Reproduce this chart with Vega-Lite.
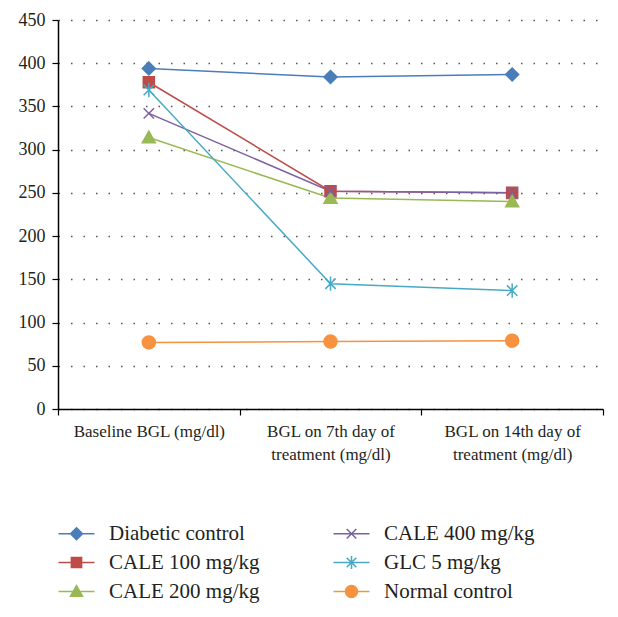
{
  "$schema": "https://vega.github.io/schema/vega-lite/v6.json",
  "width": 545,
  "height": 389,
  "autosize": {"type": "none"},
  "padding": {"left": 58, "top": 20, "right": 15, "bottom": 208},
  "background": "white",
  "config": {
    "font": "Liberation Serif",
    "view": {"stroke": null}
  },
  "data": {
    "values": [
      {"group": "Diabetic control", "time": "Baseline BGL (mg/dl)", "bgl": 394},
      {"group": "Diabetic control", "time": "BGL on 7th day of treatment (mg/dl)", "bgl": 384},
      {"group": "Diabetic control", "time": "BGL on 14th day of treatment (mg/dl)", "bgl": 387},
      {"group": "CALE 100 mg/kg", "time": "Baseline BGL (mg/dl)", "bgl": 378},
      {"group": "CALE 100 mg/kg", "time": "BGL on 7th day of treatment (mg/dl)", "bgl": 252},
      {"group": "CALE 100 mg/kg", "time": "BGL on 14th day of treatment (mg/dl)", "bgl": 250},
      {"group": "CALE 200 mg/kg", "time": "Baseline BGL (mg/dl)", "bgl": 314},
      {"group": "CALE 200 mg/kg", "time": "BGL on 7th day of treatment (mg/dl)", "bgl": 244},
      {"group": "CALE 200 mg/kg", "time": "BGL on 14th day of treatment (mg/dl)", "bgl": 240},
      {"group": "CALE 400 mg/kg", "time": "Baseline BGL (mg/dl)", "bgl": 342},
      {"group": "CALE 400 mg/kg", "time": "BGL on 7th day of treatment (mg/dl)", "bgl": 252},
      {"group": "CALE 400 mg/kg", "time": "BGL on 14th day of treatment (mg/dl)", "bgl": 250},
      {"group": "GLC 5 mg/kg", "time": "Baseline BGL (mg/dl)", "bgl": 369},
      {"group": "GLC 5 mg/kg", "time": "BGL on 7th day of treatment (mg/dl)", "bgl": 145},
      {"group": "GLC 5 mg/kg", "time": "BGL on 14th day of treatment (mg/dl)", "bgl": 137},
      {"group": "Normal control", "time": "Baseline BGL (mg/dl)", "bgl": 77},
      {"group": "Normal control", "time": "BGL on 7th day of treatment (mg/dl)", "bgl": 78},
      {"group": "Normal control", "time": "BGL on 14th day of treatment (mg/dl)", "bgl": 79}
    ]
  },
  "encoding": {
    "x": {
      "field": "time",
      "type": "nominal",
      "sort": null,
      "scale": {"paddingInner": 0, "paddingOuter": 0},
      "axis": {
        "title": null,
        "tickBand": "extent",
        "labelAngle": 0,
        "labelExpr": "indexof(datum.label, ' treatment') > 0 ? [replace(datum.label, ' treatment (mg/dl)', ''), 'treatment (mg/dl)'] : datum.label",
        "labelFont": "Liberation Serif",
        "labelFontSize": 17,
        "labelColor": "#231f20",
        "labelPadding": 8,
        "labelLineHeight": 23,
        "labelLimit": 300,
        "tickSize": 6,
        "tickColor": "#000000",
        "tickWidth": 1.2,
        "domainColor": "#000000",
        "domainWidth": 1.5,
        "grid": false
      }
    },
    "y": {
      "field": "bgl",
      "type": "quantitative",
      "scale": {"domain": [0, 450], "nice": false},
      "axis": {
        "title": null,
        "values": [0, 50, 100, 150, 200, 250, 300, 350, 400, 450],
        "grid": true,
        "gridDash": [1.5, 11],
        "gridColor": "#555555",
        "gridWidth": 1.5,
        "labelFont": "Liberation Serif",
        "labelFontSize": 18,
        "labelColor": "#231f20",
        "labelPadding": 7,
        "tickSize": 6,
        "tickColor": "#000000",
        "tickWidth": 1.2,
        "domainColor": "#000000",
        "domainWidth": 1.5
      }
    }
  },
  "layer": [
    {
      "mark": {"type": "line", "strokeWidth": 1.5},
      "encoding": {
        "color": {
          "field": "group",
          "type": "nominal",
          "scale": {
            "domain": ["Diabetic control", "CALE 100 mg/kg", "CALE 200 mg/kg", "CALE 400 mg/kg", "GLC 5 mg/kg", "Normal control"],
            "range": ["#4a7ebb", "#be4b48", "#98b954", "#7d60a0", "#46aac5", "#f69240"]
          },
          "legend": {
            "title": null,
            "orient": "none",
            "legendX": 8,
            "legendY": 503,
            "columns": 2,
            "columnPadding": 70,
            "rowPadding": 7,
            "labelFont": "Liberation Serif",
            "labelFontSize": 21,
            "labelColor": "#231f20",
            "labelOffset": 22,
            "labelLimit": 300,
            "symbolSize": 144,
            "symbolStrokeWidth": 1.5,
            "encode": {
              "symbols": {
                "update": {
                  "shape": {"signal": "datum.value === 'Diabetic control' ? 'M-3,0L3,0M0,-1L1,0L0,1L-1,0Z' : datum.value === 'CALE 100 mg/kg' ? 'M-3,0L3,0M-0.85,-0.85L0.85,-0.85L0.85,0.85L-0.85,0.85Z' : datum.value === 'CALE 200 mg/kg' ? 'M-3,0L3,0M0,-1L1,0.8L-1,0.8Z' : datum.value === 'CALE 400 mg/kg' ? 'M-3,0L3,0M-0.8,-0.8L0.8,0.8M-0.8,0.8L0.8,-0.8' : datum.value === 'GLC 5 mg/kg' ? 'M-3,0L3,0M-0.8,-0.8L0.8,0.8M-0.8,0.8L0.8,-0.8M0,-1.1L0,1.1' : 'M-3,0L3,0M1,0A1,1,0,1,1,-1,0A1,1,0,1,1,1,0Z'"}
                }
              }
            }
          }
        }
      }
    },
    {
      "mark": {"type": "point", "filled": true, "size": 169, "strokeWidth": 1.5, "opacity": 1},
      "encoding": {
        "color": {"field": "group", "type": "nominal"},
        "stroke": {
          "field": "group",
          "type": "nominal",
          "scale": {
            "domain": ["Diabetic control", "CALE 100 mg/kg", "CALE 200 mg/kg", "CALE 400 mg/kg", "GLC 5 mg/kg", "Normal control"],
            "range": ["#4a7ebb", "#be4b48", "#98b954", "#7d60a0", "#46aac5", "#f69240"]
          }
        },
        "shape": {
          "field": "group",
          "type": "nominal",
          "legend": null,
          "scale": {
            "domain": ["Normal control", "GLC 5 mg/kg", "CALE 400 mg/kg", "CALE 200 mg/kg", "CALE 100 mg/kg", "Diabetic control"],
            "range": ["M1,0A1,1,0,1,1,-1,0A1,1,0,1,1,1,0Z", "M-0.8,-0.8L0.8,0.8M-0.8,0.8L0.8,-0.8M0,-1.1L0,1.1", "M-0.8,-0.8L0.8,0.8M-0.8,0.8L0.8,-0.8", "M0,-1L1,0.8L-1,0.8Z", "M-0.85,-0.85L0.85,-0.85L0.85,0.85L-0.85,0.85Z", "M0,-1L1,0L0,1L-1,0Z"]
          }
        }
      }
    }
  ]
}
